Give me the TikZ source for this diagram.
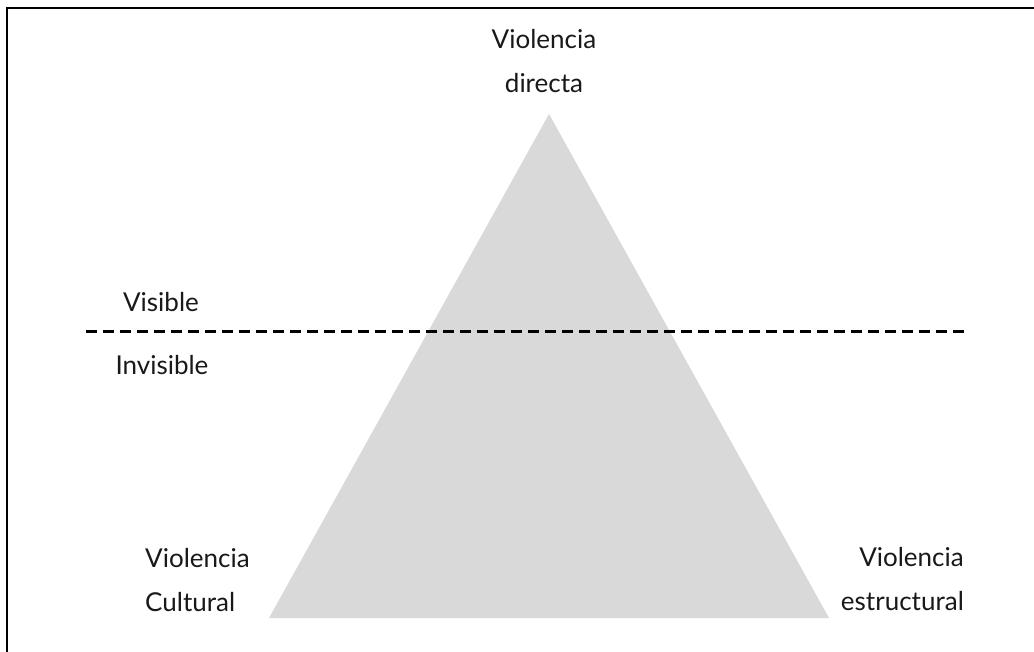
\documentclass[tikz,border=0pt]{standalone}
\usepackage{fontspec}
\setmainfont{Lato}
\begin{document}
\begin{tikzpicture}[x=1pt,y=-1pt,
  lbl/.style={inner sep=0pt, font=\fontsize{26}{44}\selectfont, text=black!90},
  divider/.style={line width=3pt, dash pattern=on 11pt off 6pt},
  frame/.style={line width=2.5pt, draw=black}]
\useasboundingbox (0,0) rectangle (1034,652);
\fill[white] (0,0) rectangle (1034,652);
\draw[frame] (7,8) rectangle (1100,720);
\coordinate (apex) at (549,114);
\coordinate (bl) at (269,618);
\coordinate (br) at (829,618);
\fill[fill={rgb,255:red,217;green,217;blue,217}] (apex) -- (br) -- (bl) -- cycle;
\coordinate (dl) at (86,332);
\coordinate (dr) at (967,332);
\draw[divider] (dl) -- (dr);
\node[lbl, anchor=base, align=center] (top) at (544,93) {Violencia\\directa};
\node[lbl, anchor=base] (vis) at (161,312) {Visible};
\node[lbl, anchor=base] (invis) at (162,374) {Invisible};
\node[lbl, anchor=base west, align=left] (cult) at (145,611) {Violencia\\Cultural};
\node[lbl, anchor=base east, align=right] (estr) at (964,610) {Violencia\\estructural};
\end{tikzpicture}
\end{document}
